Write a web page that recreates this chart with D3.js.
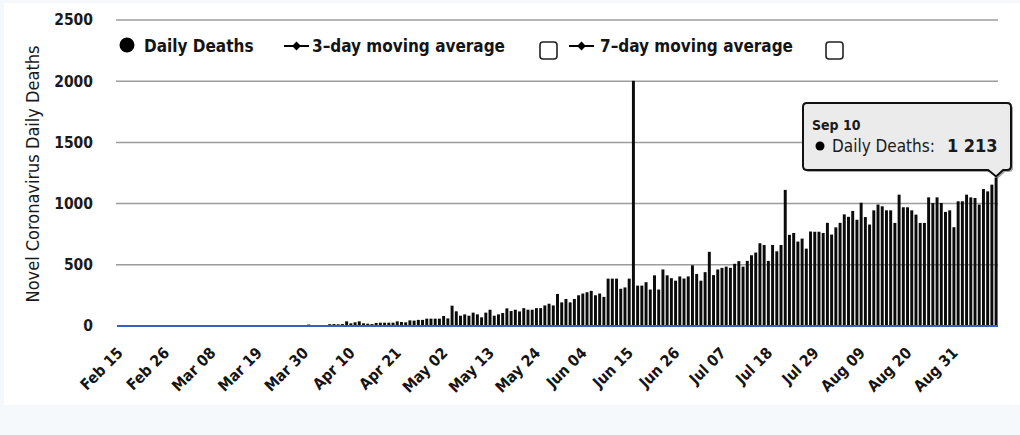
<!DOCTYPE html>
<html>
<head>
<meta charset="utf-8">
<script src="https://cdnjs.cloudflare.com/ajax/libs/d3/7.8.5/d3.min.js"></script>
<style>
  body { margin: 0; background: #f5f9fc; }
  svg { display: block; }
</style>
</head>
<body>
<svg id="chart" width="1020" height="435"></svg>
<script>
// data, one value per day starting Feb 15
const startDate = new Date(2020, 1, 15);
const dailyDeaths = [
  // Feb 15 - Mar 11
  0, 0, 0, 0, 0, 0, 0, 0, 0, 0, 0, 0, 0, 0, 0, 0, 0, 0, 0, 0, 0, 0, 0, 0, 0, 0,
  // Mar 12 - Mar 30
  1, 1, 0, 0, 0, 1, 0, 1, 1, 1, 3, 2, 2, 1, 3, 4, 3, 5, 2,
  // Mar 31 - Apr 4
  12, 4, 6, 5, 8,
  // Apr 5 - May 3
  15, 16, 14, 16, 38, 22, 30, 38, 22, 19, 16, 25, 27, 27, 27, 27, 38, 33, 30, 46,
  44, 50, 50, 60, 60, 60, 60, 82, 62,
  // May 4 - May 18
  166, 120, 84, 95, 84, 109, 95, 71, 109, 133, 84, 95, 106, 144, 122,
  // May 19 - Jun 15
  133, 119, 146, 133, 133, 146, 146, 168, 182, 168, 262, 193, 221, 193, 221, 251,
  265, 276, 287, 251, 265, 238, 387, 387, 387, 304, 315, 387,
  // Jun 16
  2003,
  // Jun 17 - Jul 21
  330, 330, 358, 298, 414, 298, 462, 414, 391, 370, 405, 388, 405, 496, 425, 370,
  440, 606, 416, 462, 475, 485, 475, 508, 530, 485, 532, 578, 600, 676, 662, 532,
  662, 610, 662,
  // Jul 22 - Sep 10
  1112, 745, 760, 690, 714, 632, 772, 770, 770, 760, 843, 747, 806, 843, 912, 892,
  940, 868, 1007, 890, 829, 945, 992, 978, 945, 945, 842, 1073, 970, 970, 945, 910,
  842, 842, 1051, 1005, 1051, 1005, 932, 945, 807, 1019, 1019, 1073, 1051, 1046, 992,
  1119, 1100, 1155, 1213
];
const yTicks = [0, 500, 1000, 1500, 2000, 2500];
const tickEvery = 11;
const yTitle = 'Novel Coronavirus Daily Deaths';
const legendLabels = ['Daily Deaths', '3–day moving average', '7–day moving average'];
const tooltipDate = 'Sep 10';
const tooltipLabel = 'Daily Deaths:';

const svg = d3.select('#chart');
const font = "'DejaVu Sans Condensed', 'DejaVu Sans', sans-serif";
const plot = { left: 117, right: 998, top: 20, bottom: 326 };

const dates = dailyDeaths.map((d, i) => d3.timeDay.offset(startDate, i));
if (dates.length !== 209) console.error('expected 209 days, got', dates.length);

const x = d3.scaleBand()
  .domain(dates)
  .range([plot.left, plot.right])
  .paddingInner(0.3)
  .paddingOuter(0.1);

const y = d3.scaleLinear()
  .domain([0, 2500])
  .range([plot.bottom, plot.top]);

// white chart area on the pale frame
svg.append('rect')
  .attr('x', 4).attr('y', 3)
  .attr('width', 1016).attr('height', 402)
  .attr('fill', '#ffffff');

// gridlines
svg.append('g')
  .selectAll('line')
  .data(yTicks.filter((t) => t > 0))
  .join('line')
  .attr('x1', plot.left - 1)
  .attr('x2', plot.right)
  .attr('y1', (d) => y(d))
  .attr('y2', (d) => y(d))
  .attr('stroke', '#9c9c9c')
  .attr('stroke-width', 1.5);

// y labels
const yAxis = svg.append('g')
  .attr('transform', `translate(${plot.left},0)`)
  .call(d3.axisLeft(y).tickValues(yTicks).tickSize(0).tickPadding(24).tickFormat(d3.format('d')));
yAxis.select('.domain').remove();
yAxis.selectAll('text')
  .attr('font-family', font)
  .attr('font-size', 15.5)
  .attr('font-weight', 'bold')
  .attr('fill', '#1a1a1a');

// y title
svg.append('text')
  .attr('transform', `translate(39,174) rotate(-90)`)
  .attr('text-anchor', 'middle')
  .attr('font-family', font)
  .attr('font-size', 18)
  .attr('fill', '#1a1a1a')
  .text(yTitle);

// bars
svg.append('g')
  .selectAll('rect')
  .data(dailyDeaths)
  .join('rect')
  .attr('x', (d, i) => x(dates[i]))
  .attr('y', (d) => y(d))
  .attr('width', x.bandwidth())
  .attr('height', (d) => plot.bottom - y(d))
  .attr('fill', '#0b0b0b');

// blue x axis line
svg.append('line')
  .attr('x1', plot.left)
  .attr('x2', plot.right)
  .attr('y1', plot.bottom)
  .attr('y2', plot.bottom)
  .attr('stroke', '#3a5cc4')
  .attr('stroke-width', 2);

// x labels, every 11 days
const xAxis = svg.append('g')
  .attr('transform', `translate(0,${plot.bottom})`)
  .call(d3.axisBottom(x)
    .tickValues(dates.filter((d, i) => i % tickEvery === 0))
    .tickSize(0)
    .tickFormat(d3.timeFormat('%b %d')));
xAxis.select('.domain').remove();
xAxis.selectAll('text')
  .attr('x', 0)
  .attr('y', 0)
  .attr('dy', 0)
  .attr('text-anchor', 'end')
  .attr('transform', 'translate(5,28) rotate(-45)')
  .attr('font-family', font)
  .attr('font-size', 15.5)
  .attr('font-weight', 'bold')
  .attr('fill', '#141414');

// legend
const legend = svg.append('g')
  .attr('font-family', font)
  .attr('font-size', 17)
  .attr('font-weight', 'bold')
  .attr('fill', '#141414');

legend.append('circle')
  .attr('cx', 127).attr('cy', 45).attr('r', 7.5)
  .attr('fill', '#000');

const legendX = [144, 312, 600];
legend.selectAll('text')
  .data(legendLabels)
  .join('text')
  .attr('x', (d, i) => legendX[i])
  .attr('y', 52)
  .text((d) => d);

// line + diamond markers
[284, 569].forEach((mx) => {
  legend.append('line')
    .attr('x1', mx).attr('x2', mx + 25)
    .attr('y1', 46).attr('y2', 46)
    .attr('stroke', '#000').attr('stroke-width', 2);
  legend.append('path')
    .attr('d', d3.symbol(d3.symbolDiamond2, 50)())
    .attr('transform', `translate(${mx + 12.5},46)`)
    .attr('fill', '#000');
});

// checkboxes
[540, 826].forEach((bx) => {
  legend.append('rect')
    .attr('x', bx).attr('y', 42)
    .attr('width', 17).attr('height', 17)
    .attr('rx', 3)
    .attr('fill', '#fff')
    .attr('stroke', '#222')
    .attr('stroke-width', 1.6);
});

// tooltip on the last bar
const lastIdx = dailyDeaths.length - 1;
const tipX = x(dates[lastIdx]) + x.bandwidth() / 2;
const tipY = y(dailyDeaths[lastIdx]) - 1;
const box = { x0: 803, x1: 1011, y0: 103, y1: 170, r: 4 };

const tipPath = () => {
  const p = d3.path();
  p.moveTo(box.x0 + box.r, box.y0);
  p.lineTo(box.x1 - box.r, box.y0);
  p.quadraticCurveTo(box.x1, box.y0, box.x1, box.y0 + box.r);
  p.lineTo(box.x1, box.y1 - box.r);
  p.quadraticCurveTo(box.x1, box.y1, box.x1 - box.r, box.y1);
  p.lineTo(tipX + 7, box.y1);
  p.lineTo(tipX, tipY);
  p.lineTo(tipX - 8, box.y1);
  p.lineTo(box.x0 + box.r, box.y1);
  p.quadraticCurveTo(box.x0, box.y1, box.x0, box.y1 - box.r);
  p.lineTo(box.x0, box.y0 + box.r);
  p.quadraticCurveTo(box.x0, box.y0, box.x0 + box.r, box.y0);
  p.closePath();
  return p.toString();
};

const tip = svg.append('g');
tip.append('path')
  .attr('d', tipPath())
  .attr('transform', 'translate(2,2)')
  .attr('fill', 'rgba(0,0,0,0.35)');
tip.append('path')
  .attr('d', tipPath())
  .attr('fill', '#ebebeb')
  .attr('stroke', '#111')
  .attr('stroke-width', 2);

tip.append('text')
  .attr('x', 812).attr('y', 130)
  .attr('font-family', font)
  .attr('font-size', 14)
  .attr('font-weight', 'bold')
  .attr('fill', '#1a1a1a')
  .text(tooltipDate);

tip.append('circle')
  .attr('cx', 820).attr('cy', 146).attr('r', 4.5)
  .attr('fill', '#000');

const tipText = tip.append('text')
  .attr('x', 832).attr('y', 152)
  .attr('font-family', font)
  .attr('font-size', 17)
  .attr('fill', '#1a1a1a');
tipText.append('tspan').text(tooltipLabel);
tipText.append('tspan')
  .attr('dx', 12)
  .attr('font-weight', 'bold')
  .attr('font-size', 18)
  .text(d3.format(',')(dailyDeaths[lastIdx]).replace(',', ' '));
</script>
</body>
</html>
